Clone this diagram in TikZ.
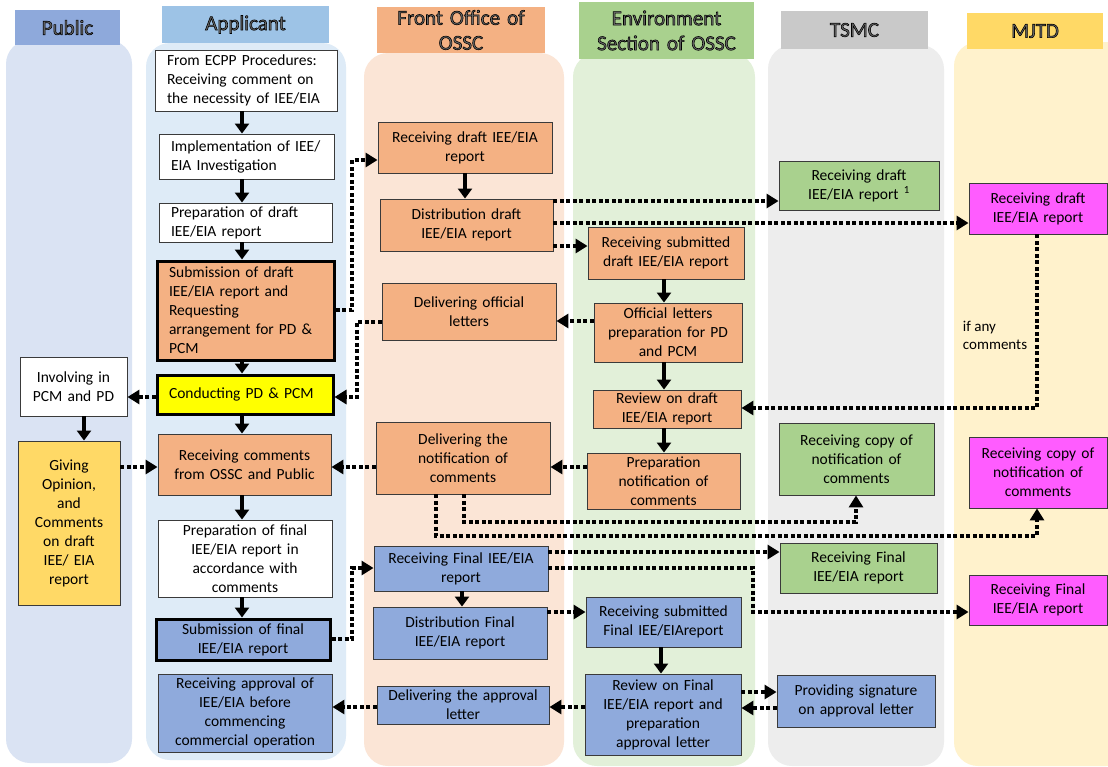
\documentclass[tikz,border=0pt]{standalone}
\usepackage{fontspec}
\setmainfont{Carlito}
\usetikzlibrary{arrows.meta}
\definecolor{lanepub}{HTML}{DAE3F3}
\definecolor{laneapp}{HTML}{DEEBF7}
\definecolor{lanefo}{HTML}{FBE5D6}
\definecolor{laneenv}{HTML}{E2F0D9}
\definecolor{lanets}{HTML}{EDEDED}
\definecolor{lanemj}{HTML}{FFF2CC}
\definecolor{hdpub}{HTML}{8EA9DB}
\definecolor{hdapp}{HTML}{9DC3E6}
\definecolor{hdfo}{HTML}{F4B183}
\definecolor{hdenv}{HTML}{A9D18E}
\definecolor{hdts}{HTML}{C9C9C9}
\definecolor{hdmj}{HTML}{FFD966}
\definecolor{orgbox}{HTML}{F4B183}
\definecolor{blubox}{HTML}{8FAADC}
\definecolor{grnbox}{HTML}{A9D18E}
\definecolor{magbox}{HTML}{FF5CFF}
\definecolor{yelbox}{HTML}{FFFF00}
\definecolor{givbox}{HTML}{FFD966}
\definecolor{boxline}{HTML}{3A3A3A}
\definecolor{hdrtxt}{HTML}{6A6A6A}
\newcommand\outl[1]{{\leavevmode\color{hdrtxt}\special{pdf:literal direct 2 Tr 0.6 w 0 0 0 RG}#1\special{pdf:literal direct 0 Tr}}}
\newcommand\mybox[7]{%
  \pgfmathsetmacro\bw{#5-#3}%
  \pgfmathsetmacro\bh{#6-#4}%
  \pgfmathsetmacro\tw{#5-#3-6}%
  \pgfmathsetmacro\tl{#5-#3-24}%
  \node[minimum width=\bw pt, minimum height=\bh pt, text width=\tw pt, #2] (#1) at ({(#3+#5)/2},{(#4+#6)/2}) {#7};}
\tikzset{
  box/.style={draw=boxline, line width=0.9pt, inner sep=0pt, align=center, font=\fontsize{15.5}{19}\selectfont},
  la/.style={align=left, text width=\tl pt},
  thk/.style={draw=black, line width=3pt},
  wb/.style={box, fill=white},
  ob/.style={box, fill=orgbox},
  bb/.style={box, fill=blubox},
  gb/.style={box, fill=grnbox},
  mb/.style={box, fill=magbox},
  yb/.style={box, fill=yelbox},
  gyb/.style={box, fill=givbox},
  hdr/.style={inner sep=0pt, align=center, font=\fontsize{21}{25}\selectfont},
  lane/.style={rounded corners=24pt},
  sa/.style={line width=3.5pt, -{Triangle[length=10pt,width=14pt]}},
  da/.style={line width=3.3pt, dash pattern=on 4pt off 2.5pt, -{Triangle[length=12pt,width=14pt]}},
  lbl/.style={inner sep=0pt, align=left, font=\fontsize{15}{18}\selectfont}
}
\begin{document}
\begin{tikzpicture}[x=1pt,y=-1pt]
\useasboundingbox (0,0) rectangle (1108,766);
\fill[white] (0,0) rectangle (1108,766);
% lanes
\fill[lanepub, lane] (6,40) rectangle (132,763);
\fill[laneapp, lane] (146,43) rectangle (346,760);
\fill[lanefo, lane] (364,53) rectangle (564,766);
\fill[laneenv, lane] (573,53) rectangle (755,766);
\fill[lanets, lane] (768,45) rectangle (944,766);
\fill[lanemj, lane] (954,42) rectangle (1130,766);
% headers
\mybox{hpub}{hdr, fill=hdpub}{15}{10}{120}{45}{\outl{Public}}
\mybox{happ}{hdr, fill=hdapp}{162}{6}{329}{43}{\outl{Applicant}}
\mybox{hfo}{hdr, fill=hdfo}{377}{7}{545}{53}{\outl{Front Office of\\OSSC}}
\mybox{henv}{hdr, fill=hdenv}{579}{2}{754}{59}{\outl{Environment\\Section of OSSC}}
\mybox{hts}{hdr, fill=hdts}{781}{11}{928}{49}{\outl{TSMC}}
\mybox{hmj}{hdr, fill=hdmj}{967}{13}{1103}{49}{\outl{MJTD}}
% applicant
\mybox{ecpp}{wb, la}{155}{50}{337}{111}{From ECPP Procedures:\\Receiving comment  on\\the necessity of IEE/EIA}
\mybox{impl}{wb, la}{159}{134}{334}{179}{Implementation of IEE/\\EIA Investigation}
\mybox{prepd}{wb, la}{159}{203}{332}{242}{Preparation of draft\\IEE/EIA report}
\mybox{subd}{ob, la, thk}{157}{261}{334}{360}{Submission of draft\\IEE/EIA report and\\Requesting\\arrangement for PD \&\\PCM}
\mybox{cond}{yb, la, thk}{157}{375}{333}{414}{Conducting PD \& PCM}
\mybox{recc}{ob}{158}{434}{331}{495}{Receiving comments\\from OSSC and Public}
\mybox{prepf}{wb}{158}{520}{332}{597}{Preparation of final\\IEE/EIA report in\\accordance with\\comments}
\mybox{subf}{bb, thk}{156}{619}{330}{660}{Submission of final\\IEE/EIA report}
\mybox{recap}{bb}{158}{674}{332}{752}{Receiving approval of\\IEE/EIA before\\commencing\\commercial operation}
% public
\mybox{inv}{wb}{20}{357}{127}{416}{Involving in\\PCM and PD}
\mybox{give}{gyb}{18}{441}{120}{605}{Giving\\Opinion,\\and\\Comments\\on draft\\IEE/ EIA\\report}
% front office
\mybox{frd}{ob}{378}{122}{552}{173}{Receiving draft IEE/EIA\\report}
\mybox{distd}{ob}{380}{199}{553}{251}{Distribution draft\\IEE/EIA report}
\mybox{delol}{ob}{382}{283}{556}{340}{Delivering official\\letters}
\mybox{deln}{ob}{376}{422}{550}{494}{Delivering the\\notification of\\comments}
\mybox{frf}{bb}{374}{546}{548}{591}{Receiving Final IEE/EIA\\report}
\mybox{distf}{bb}{373}{607}{547}{659}{Distribution Final\\IEE/EIA report}
\mybox{delap}{bb}{377}{686}{549}{724}{Delivering the approval\\letter}
% environment section
\mybox{rsd}{ob}{588}{227}{744}{279}{Receiving submitted\\draft IEE/EIA report}
\mybox{olp}{ob}{594}{303}{742}{362}{Official letters\\preparation for PD\\and PCM}
\mybox{rev}{ob}{593}{390}{741}{428}{Review on draft\\IEE/EIA report}
\mybox{pnc}{ob}{587}{453}{740}{509}{Preparation\\notification of\\comments}
\mybox{rsf}{bb}{586}{597}{741}{647}{Receiving submitted\\Final  IEE/EIAreport}
\mybox{revf}{bb}{585}{674}{741}{755}{Review on Final\\IEE/EIA report and\\preparation\\approval letter}
% TSMC
\mybox{trd}{gb}{779}{161}{939}{210}{Receiving draft\\IEE/EIA report \textsuperscript{1}}
\mybox{tcopy}{gb}{779}{423}{934}{495}{Receiving copy of\\notification of\\comments}
\mybox{tfin}{gb}{780}{543}{937}{593}{Receiving Final\\IEE/EIA report}
\mybox{sig}{bb}{777}{675}{935}{727}{Providing signature\\on approval letter}
% MJTD
\mybox{mrd}{mb}{969}{183}{1107}{234}{Receiving draft\\IEE/EIA report}
\mybox{mcopy}{mb}{969}{437}{1107}{508}{Receiving copy of\\notification of\\comments}
\mybox{mfin}{mb}{969}{575}{1107}{625}{Receiving Final\\IEE/EIA report}
\node[lbl] (ifany) at (995,335) {if any\\comments};
% solid arrows
\draw[sa] (ecpp.south -| 242,0) -- (impl.north -| 242,0);
\draw[sa] (impl.south -| 242,0) -- (prepd.north -| 242,0);
\draw[sa] (prepd.south -| 242,0) -- (subd.north -| 242,0);
\draw[sa] (subd.south -| 242,0) -- (cond.north -| 242,0);
\draw[sa] (cond.south -| 242,0) -- (recc.north -| 242,0);
\draw[sa] (recc.south -| 242,0) -- (prepf.north -| 242,0);
\draw[sa] (prepf.south -| 242,0) -- (subf.north -| 242,0);
\draw[sa] (inv.south -| 84,0) -- (give.north -| 84,0);
\draw[sa] (frd.south -| 465,0) -- (distd.north -| 465,0);
\draw[sa] (rsd.south -| 664,0) -- (olp.north -| 664,0);
\draw[sa] (olp.south -| 664,0) -- (rev.north -| 664,0);
\draw[sa] (rev.south -| 664,0) -- (pnc.north -| 664,0);
\draw[sa] (frf.south -| 462,0) -- (distf.north -| 462,0);
\draw[sa] (rsf.south -| 661,0) -- (revf.north -| 661,0);
% dashed arrows
\draw[da] (subd.east |- 0,310) -| (352,160) -- (frd.west |- 0,160);
\draw[da] (delol.west |- 0,322) -| (357,397) -- (cond.east |- 0,397);
\draw[da] (distd.east |- 0,201) -- (trd.west |- 0,201);
\draw[da] (distd.east |- 0,223) -- (mrd.west |- 0,223);
\draw[da] (distd.east |- 0,246) -- (rsd.west |- 0,246);
\draw[da] (olp.west |- 0,321) -- (delol.east |- 0,321);
\draw[da] (mrd.south -| 1037,0) |- (rev.east |- 0,408);
\draw[da] (pnc.west |- 0,467) -- (deln.east |- 0,467);
\draw[da] (deln.west |- 0,467) -- (recc.east |- 0,467);
\draw[da] (give.east |- 0,467) -- (recc.west |- 0,467);
\draw[da] (cond.west |- 0,397) -- (inv.east |- 0,397);
\draw[da] (deln.south -| 464,0) |- (856,522) -- (tcopy.south -| 856,0);
\draw[da] (deln.south -| 436,0) |- (1037,536) -- (mcopy.south -| 1037,0);
\draw[da] (subf.east |- 0,639) -| (352,568) -- (frf.west |- 0,568);
\draw[da] (frf.east |- 0,552) -- (tfin.west |- 0,552);
\draw[da] (frf.east |- 0,568) -| (753,612) -- (mfin.west |- 0,612);
\draw[da] (distf.east |- 0,612) -- (rsf.west |- 0,612);
\draw[da] (revf.east |- 0,692) -- (sig.west |- 0,692);
\draw[da] (sig.west |- 0,708) -- (revf.east |- 0,708);
\draw[da] (revf.west |- 0,707) -- (delap.east |- 0,707);
\draw[da] (delap.west |- 0,707) -- (recap.east |- 0,707);
\end{tikzpicture}
\end{document}
